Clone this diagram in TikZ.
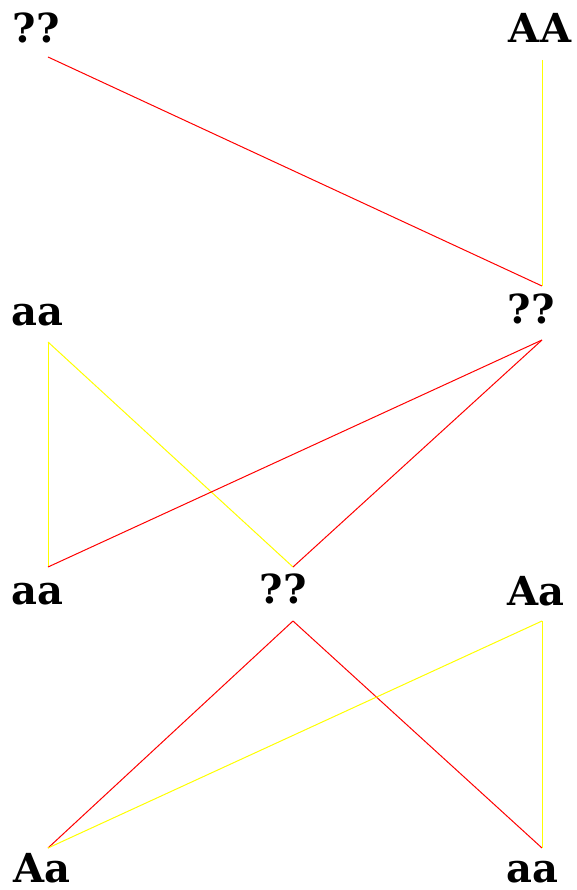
\documentclass[tikz,border=0pt]{standalone}
\usepackage{fontspec}
\setmainfont{DejaVu Serif}
\begin{document}
\begin{tikzpicture}[x=1pt,y=-1pt,
  lbl/.style={font=\fontsize{40}{40}\selectfont\bfseries, inner sep=0pt, anchor=base},
  redline/.style={draw={rgb,255:red,255;green,0;blue,0}, line width=1pt},
  yelline/.style={draw={rgb,255:red,255;green,255;blue,0}, line width=1pt}]
\useasboundingbox[fill=white] (0,0) rectangle (576,890);
% labels
\node[lbl] (q1) at (36,43) {??};
\node[lbl] (AA1) at (540,43) {AA};
\node[lbl] (aa2) at (37,325) {aa};
\node[lbl] (q2) at (531,323) {??};
\node[lbl] (aa3) at (37,604) {aa};
\node[lbl] (q3) at (283,603) {??};
\node[lbl] (Aa3) at (536,605) {Aa};
\node[lbl] (Aa4) at (42,882) {Aa};
\node[lbl] (aa4) at (532,882) {aa};
% connector end points
\coordinate (p1) at (48,57);
\coordinate (p2) at (542,60);
\coordinate (p3) at (542,286);
\coordinate (p4) at (48,342);
\coordinate (p5) at (542,340);
\coordinate (p6) at (48,567);
\coordinate (p7) at (293,567);
\coordinate (p8) at (293,621);
\coordinate (p9) at (542,621);
\coordinate (p10) at (48,848);
\coordinate (p11) at (542,848);
% connectors
\draw[redline] (p1) -- (p3);
\draw[yelline] (p2) -- (p3);
\draw[yelline] (p4) -- (p6);
\draw[yelline] (p4) -- (p7);
\draw[redline] (p6) -- (p5);
\draw[redline] (p7) -- (p5);
\draw[redline] (p8) -- (p10);
\draw[redline] (p8) -- (p11);
\draw[yelline] (p10) -- (p9);
\draw[yelline] (p9) -- (p11);
\end{tikzpicture}
\end{document}
